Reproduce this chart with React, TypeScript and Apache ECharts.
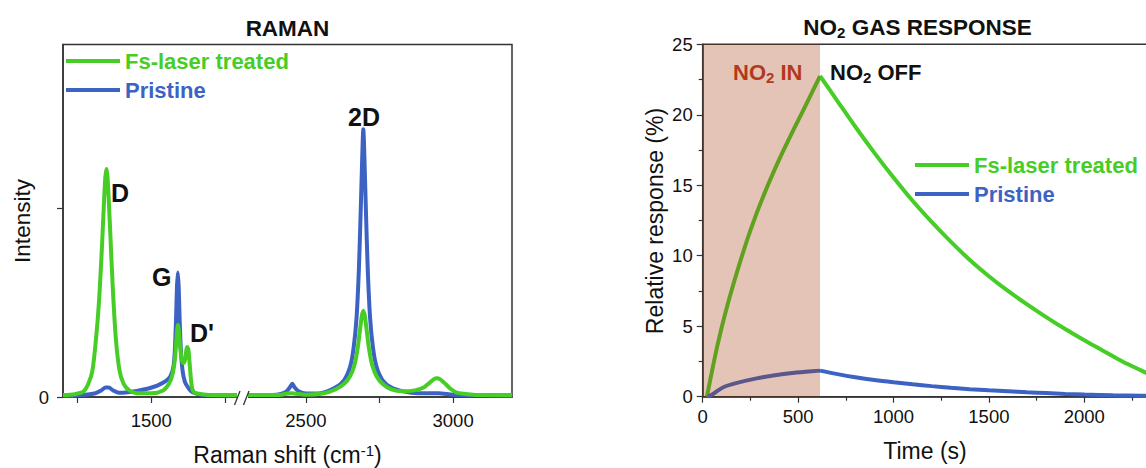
import React, { useEffect, useRef } from "react";
import * as echarts from "echarts";

const FONT = "'Liberation Sans', Arial, Helvetica, sans-serif";
const GREEN = "#46cd26";
const BLUE = "#3c63c3";
const INK = "#111111";
const AXIS = "#333333";
const NO2_RED = "#b3391d";
const SHADE = "rgba(165,58,18,0.3)";

// ---------- Raman spectra (Raman shift cm-1, intensity a.u.) ----------
const ramanBreak = { from: 1800, to: 2300, gap: 25 };
const ramanRange = [1200, 3200];
const ramanTickValues = [1250, 1500, 1750, 2500, 2750, 3000];
const ramanLabelValues = [1500, 2500, 3000];
const intensityTicks = [0, 1];

const pristineRamanLow: [number, number][] = [
  [1200, 0.005], [1260, 0.01], [1310, 0.02], [1330, 0.035], [1345, 0.05], [1355, 0.05],
  [1370, 0.035], [1390, 0.022], [1420, 0.025], [1450, 0.032], [1490, 0.045], [1520, 0.06],
  [1550, 0.085], [1565, 0.11], [1575, 0.16], [1580, 0.25], [1584, 0.42], [1587, 0.58],
  [1590, 0.66], [1593, 0.58], [1596, 0.42], [1600, 0.26], [1606, 0.14], [1614, 0.08],
  [1625, 0.05], [1640, 0.025], [1670, 0.012], [1720, 0.008], [1800, 0.006],
];
const pristineRamanHigh: [number, number][] = [
  [2300, 0.01], [2400, 0.012], [2430, 0.025], [2445, 0.05], [2454, 0.07], [2462, 0.05],
  [2475, 0.03], [2500, 0.018], [2550, 0.02], [2600, 0.05], [2630, 0.09], [2650, 0.16],
  [2662, 0.26], [2672, 0.42], [2680, 0.68], [2686, 0.98], [2690, 1.2], [2693, 1.36],
  [2695, 1.42], [2697, 1.36], [2700, 1.2], [2704, 0.98], [2710, 0.68], [2718, 0.42],
  [2728, 0.26], [2740, 0.16], [2760, 0.09], [2790, 0.05], [2830, 0.03], [2880, 0.02],
  [2950, 0.02], [3000, 0.012], [3100, 0.008], [3200, 0.005],
];
const treatedRamanLow: [number, number][] = [
  [1200, 0.01], [1240, 0.015], [1270, 0.03], [1286, 0.07], [1300, 0.14], [1314, 0.34],
  [1324, 0.55], [1333, 0.82], [1340, 1.06], [1344, 1.17], [1348, 1.21], [1351, 1.17],
  [1355, 1.06], [1362, 0.82], [1370, 0.55], [1380, 0.3], [1392, 0.14], [1406, 0.07],
  [1425, 0.035], [1450, 0.02], [1500, 0.02], [1540, 0.035], [1560, 0.07], [1572, 0.12],
  [1580, 0.2], [1585, 0.3], [1588, 0.36], [1590, 0.383], [1593, 0.36], [1597, 0.28],
  [1603, 0.2], [1609, 0.18], [1615, 0.2], [1619, 0.25], [1622, 0.265], [1626, 0.25],
  [1631, 0.16], [1637, 0.06], [1645, 0.025], [1670, 0.015], [1720, 0.01], [1800, 0.01],
];
const treatedRamanHigh: [number, number][] = [
  [2300, 0.01], [2400, 0.01], [2450, 0.02], [2500, 0.012], [2560, 0.02], [2600, 0.04],
  [2630, 0.07], [2650, 0.11], [2665, 0.17], [2676, 0.26], [2684, 0.36], [2690, 0.43],
  [2695, 0.457], [2700, 0.43], [2706, 0.36], [2714, 0.26], [2725, 0.17], [2740, 0.11],
  [2760, 0.07], [2790, 0.04], [2830, 0.03], [2870, 0.035], [2900, 0.05], [2920, 0.075],
  [2935, 0.095], [2945, 0.1], [2955, 0.095], [2970, 0.075], [2990, 0.045], [3010, 0.025],
  [3050, 0.015], [3100, 0.01], [3200, 0.01],
];

// ---------- NO2 gas response (time s, relative response %) ----------
const no2Window = [0, 615];
const timeTicks = { min: 0, max: 2500, interval: 500 };
const responseTicks = { min: 0, max: 25, interval: 5 };

const treatedRise: [number, number][] = [
  [22, 0], [50, 1.9], [75, 3.5], [103, 5.1], [140, 7.0], [190, 9.3], [250, 11.8],
  [320, 14.3], [400, 16.8], [480, 19.05], [550, 20.95], [615, 22.75],
];
const treatedDecay: [number, number][] = [
  [615, 22.75], [700, 21.1], [800, 19.15], [900, 17.3], [1000, 15.55], [1100, 13.9],
  [1200, 12.4], [1300, 11.0], [1400, 9.7], [1500, 8.55], [1600, 7.5], [1700, 6.55],
  [1800, 5.65], [1900, 4.8], [2000, 4.0], [2100, 3.25], [2200, 2.5], [2300, 1.85],
  [2400, 1.2], [2500, 0.55],
];
const pristineRise: [number, number][] = [
  [28, 0], [60, 0.25], [108, 0.67], [180, 0.98], [283, 1.3], [370, 1.5], [457, 1.66],
  [540, 1.77], [615, 1.85],
];
const pristineDecay: [number, number][] = [
  [615, 1.85], [700, 1.62], [800, 1.38], [900, 1.18], [1000, 1.02], [1100, 0.88],
  [1200, 0.75], [1300, 0.63], [1400, 0.53], [1500, 0.45], [1600, 0.38], [1700, 0.31],
  [1800, 0.26], [1900, 0.2], [2000, 0.15], [2150, 0.1], [2300, 0.07], [2500, 0.04],
];

const SERIES_TREATED = "Fs-laser treated";
const SERIES_PRISTINE = "Pristine";

const toAxis = (x: number) =>
  x <= ramanBreak.from ? x : x - (ramanBreak.to - ramanBreak.from) + ramanBreak.gap;
const fromAxis = (d: number) =>
  d <= ramanBreak.from ? d : d + (ramanBreak.to - ramanBreak.from) - ramanBreak.gap;
const mapRaman = (arr: [number, number][]) => arr.map(([x, y]) => [toAxis(x), y]);

export default function App() {
  const ref = useRef<HTMLDivElement>(null);

  useEffect(() => {
    if (!ref.current) return;
    const chart = echarts.init(ref.current, undefined, { renderer: "svg" });

    const lineBase = (color: string) => ({
      type: "line" as const,
      symbol: "none",
      showSymbol: false,
      smooth: 0.25,
      lineStyle: { color, width: 4 },
      itemStyle: { color },
      silent: true,
    });

    const tickLabel = { fontSize: 18.5, color: INK, fontFamily: FONT };
    const legendCommon = {
      orient: "vertical" as const,
      icon: "rect",
      itemWidth: 54,
      itemHeight: 4,
      itemGap: 7,
      padding: 0,
      selectedMode: false,
      textStyle: { fontSize: 22, fontWeight: "bold" as const, fontFamily: FONT },
      data: [
        { name: SERIES_TREATED, textStyle: { color: GREEN }, itemStyle: { color: GREEN } },
        { name: SERIES_PRISTINE, textStyle: { color: BLUE }, itemStyle: { color: BLUE } },
      ],
    };

    const boldText = (size: number, fill: string) => ({
      fontSize: size,
      fontWeight: "bold",
      fontFamily: FONT,
      fill,
    });
    const no2Rich = (fill: string, size: number) => ({
      a: { fontSize: size, fontWeight: "bold", fontFamily: FONT, fill },
      s: {
        fontSize: Math.round(size * 0.68),
        fontWeight: "bold",
        fontFamily: FONT,
        fill,
        verticalAlign: "bottom",
        padding: [Math.round(size * 0.45), 0, 0, 0],
      },
    });
    const axisName = (size: number) => ({ fontSize: size, fontFamily: FONT, fill: INK });

    const option: any = {
      animation: false,
      backgroundColor: "#ffffff",
      grid: [
        {
          left: 63, top: 44.5, width: 449, height: 352.5,
          show: true, borderColor: AXIS, borderWidth: 1.5, backgroundColor: "transparent",
        },
        {
          left: 702.7, top: 44.3, width: 477, height: 352.4,
          show: true, borderColor: AXIS, borderWidth: 1.5, backgroundColor: "transparent",
        },
      ],
      xAxis: [
        {
          type: "value", gridIndex: 0,
          min: toAxis(ramanRange[0]), max: toAxis(ramanRange[1]),
          axisLine: { show: true, lineStyle: { color: AXIS, width: 1.5 } },
          axisTick: {
            show: true, inside: false, length: 6, customValues: ramanTickValues.map(toAxis),
            lineStyle: { color: AXIS, width: 1.2 },
          },
          axisLabel: {
            ...tickLabel, margin: 14, customValues: ramanLabelValues.map(toAxis),
            formatter: (v: number) => String(Math.round(fromAxis(v))),
          },
          splitLine: { show: false },
        },
        {
          type: "value", gridIndex: 1,
          min: timeTicks.min, max: timeTicks.max, interval: timeTicks.interval,
          axisLine: { show: true, lineStyle: { color: AXIS, width: 1.5 } },
          axisTick: { show: true, inside: false, length: 6, lineStyle: { color: AXIS, width: 1.2 } },
          minorTick: { show: true, splitNumber: 2, length: 4, lineStyle: { color: AXIS, width: 1.2 } },
          axisLabel: {
            ...tickLabel, margin: 10, showMaxLabel: false,
            formatter: (v: number) => String(v),
          },
          splitLine: { show: false },
        },
      ],
      yAxis: [
        {
          type: "value", gridIndex: 0, min: 0, max: 1.87,
          axisLine: { show: true, lineStyle: { color: AXIS, width: 1.5 } },
          axisTick: {
            show: true, inside: false, length: 6, customValues: intensityTicks,
            lineStyle: { color: AXIS, width: 1.2 },
          },
          axisLabel: { ...tickLabel, margin: 14, customValues: [0], formatter: () => "0" },
          splitLine: { show: false },
        },
        {
          type: "value", gridIndex: 1,
          min: responseTicks.min, max: responseTicks.max, interval: responseTicks.interval,
          axisLine: { show: true, lineStyle: { color: AXIS, width: 1.5 } },
          axisTick: { show: true, inside: false, length: 6, lineStyle: { color: AXIS, width: 1.2 } },
          minorTick: { show: true, splitNumber: 2, length: 4, lineStyle: { color: AXIS, width: 1.2 } },
          axisLabel: { ...tickLabel, margin: 10, formatter: (v: number) => String(v) },
          splitLine: { show: false },
        },
      ],
      legend: [
        { ...legendCommon, left: 66, top: 50 },
        { ...legendCommon, left: 915, top: 154 },
      ],
      series: [
        { ...lineBase(BLUE), name: SERIES_PRISTINE, xAxisIndex: 0, yAxisIndex: 0, data: mapRaman(pristineRamanLow), z: 2 },
        { ...lineBase(BLUE), name: SERIES_PRISTINE, xAxisIndex: 0, yAxisIndex: 0, data: mapRaman(pristineRamanHigh), z: 2 },
        { ...lineBase(GREEN), name: SERIES_TREATED, xAxisIndex: 0, yAxisIndex: 0, data: mapRaman(treatedRamanLow), z: 3 },
        { ...lineBase(GREEN), name: SERIES_TREATED, xAxisIndex: 0, yAxisIndex: 0, data: mapRaman(treatedRamanHigh), z: 3 },
        { ...lineBase(GREEN), smooth: 0.3, name: SERIES_TREATED, xAxisIndex: 1, yAxisIndex: 1, data: treatedRise, z: 3 },
        { ...lineBase(GREEN), smooth: 0.3, name: SERIES_TREATED, xAxisIndex: 1, yAxisIndex: 1, data: treatedDecay, z: 3 },
        { ...lineBase(BLUE), smooth: 0.3, name: SERIES_PRISTINE, xAxisIndex: 1, yAxisIndex: 1, data: pristineRise, z: 3 },
        { ...lineBase(BLUE), smooth: 0.3, name: SERIES_PRISTINE, xAxisIndex: 1, yAxisIndex: 1, data: pristineDecay, z: 3 },
        {
          type: "custom",
          name: "NO2 window",
          xAxisIndex: 1,
          yAxisIndex: 1,
          silent: true,
          z: 10,
          data: [[no2Window[0], no2Window[1]]],
          renderItem: (_p: any, api: any) => {
            const a = api.coord([api.value(0), responseTicks.max]);
            const b = api.coord([api.value(1), responseTicks.min]);
            return {
              type: "rect",
              shape: { x: a[0], y: a[1], width: b[0] - a[0], height: b[1] - a[1] },
              style: { fill: SHADE },
            };
          },
        },
      ],
      graphic: [
        { type: "text", x: 287.5, y: 28, z: 100, style: { text: "RAMAN", align: "center", verticalAlign: "middle", ...boldText(22.5, INK) } },
        {
          type: "text", x: 917.5, y: 27, z: 100,
          style: {
            text: "{a|NO}{s|2}{a| GAS RESPONSE}", align: "center", verticalAlign: "middle",
            rich: no2Rich(INK, 22.5),
          },
        },
        {
          type: "text", x: 22, y: 221, rotation: Math.PI / 2, z: 100,
          style: { text: "Intensity", align: "center", verticalAlign: "middle", ...axisName(22.5) },
        },
        {
          type: "text", x: 287.5, y: 455, z: 100,
          style: {
            text: "{a|Raman shift (cm}{p|-1}{a|)}", align: "center", verticalAlign: "middle",
            rich: {
              a: axisName(23),
              p: { ...axisName(15), verticalAlign: "top", padding: [0, 0, 10, 0] },
            },
          },
        },
        {
          type: "text", x: 655, y: 221, rotation: Math.PI / 2, z: 100,
          style: { text: "Relative response (%)", align: "center", verticalAlign: "middle", ...axisName(23) },
        },
        {
          type: "text", x: 925, y: 451, z: 100,
          style: { text: "Time (s)", align: "center", verticalAlign: "middle", ...axisName(23) },
        },
        { type: "text", x: 111, y: 193, z: 100, style: { text: "D", verticalAlign: "middle", ...boldText(25, INK) } },
        { type: "text", x: 152, y: 277, z: 100, style: { text: "G", verticalAlign: "middle", ...boldText(25, INK) } },
        { type: "text", x: 190, y: 333, z: 100, style: { text: "D'", verticalAlign: "middle", ...boldText(25, INK) } },
        { type: "text", x: 348, y: 117, z: 100, style: { text: "2D", verticalAlign: "middle", ...boldText(25, INK) } },
        {
          type: "text", x: 733, y: 72, z: 100,
          style: { text: "{a|NO}{s|2}{a| IN}", verticalAlign: "middle", rich: no2Rich(NO2_RED, 22) },
        },
        {
          type: "text", x: 830, y: 72, z: 100,
          style: { text: "{a|NO}{s|2}{a| OFF}", verticalAlign: "middle", rich: no2Rich(INK, 22) },
        },
        { type: "rect", z: 100, shape: { x: 237, y: 392, width: 11, height: 10 }, style: { fill: "#ffffff" } },
        { type: "line", z: 101, shape: { x1: 234.5, y1: 405, x2: 240, y2: 391 }, style: { stroke: AXIS, lineWidth: 1.3 } },
        { type: "line", z: 101, shape: { x1: 243.5, y1: 405, x2: 249, y2: 391 }, style: { stroke: AXIS, lineWidth: 1.3 } },
      ],
    };

    chart.setOption(option);
    return () => chart.dispose();
  }, []);

  return (
    <div
      style={{
        position: "fixed", left: 0, top: 0, width: 1146, height: 468,
        overflow: "hidden", background: "#ffffff",
      }}
    >
      <div ref={ref} style={{ width: 1300, height: 468 }} />
    </div>
  );
}
